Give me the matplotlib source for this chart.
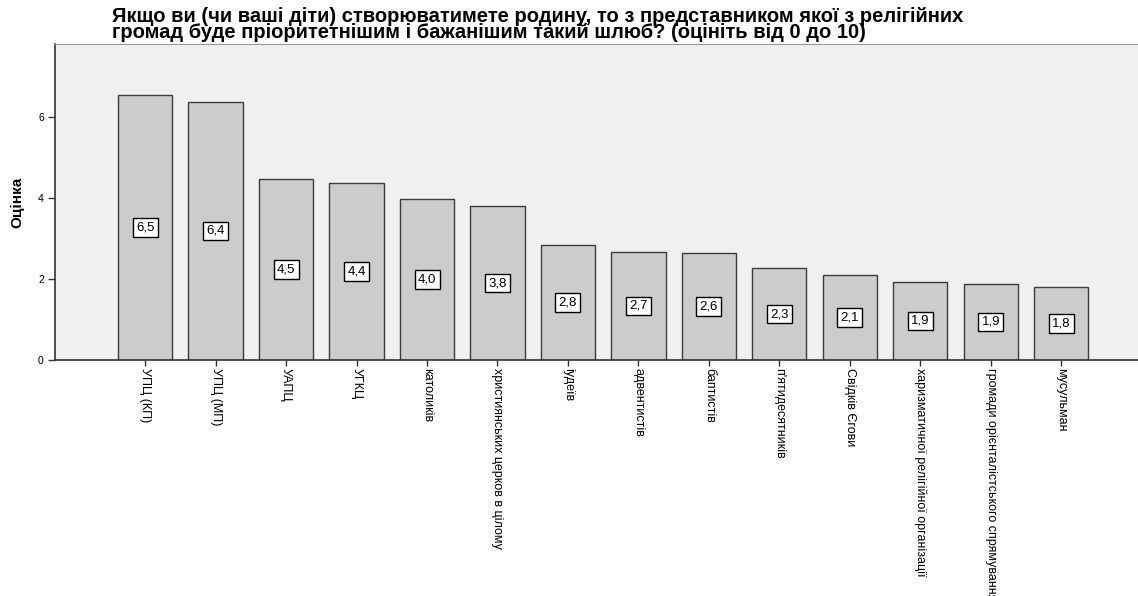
import matplotlib.pyplot as plt
import numpy as np

# groups and mean scores (0..10 scale)
groups = [
    "УПЦ (КП)", "УПЦ (МП)", "УАПЦ", "УГКЦ", "католиків",
    "християнських церков в цілому", "іудеїв", "адвентистів", "баптистів",
    "п'ятидесятників", "Свідків Єгови", "харизматичної релігійної організації",
    "громади орієнталістського спрямування", "мусульман",
]
scores = [6.54, 6.37, 4.47, 4.37, 3.98, 3.80, 2.84, 2.67, 2.64, 2.27, 2.10, 1.93, 1.88, 1.80]
yticks = [0, 2, 4, 6]

plt.rcParams['font.family'] = ['Liberation Sans Narrow', 'Liberation Sans', 'DejaVu Sans']

fig = plt.figure(figsize=(11.38, 5.96), dpi=100)
ax = fig.add_axes([0.0483, 0.396, 0.9517, 0.530])
ax.set_facecolor("#f0f0f0")

x = np.arange(len(groups))
ax.bar(x, scores, width=0.77, color="#cccccc", edgecolor="#3c3c3c", linewidth=1.0, zorder=2)

for xi, v in zip(x, scores):
    ax.text(xi, v / 2, f"{v:.1f}".replace(".", ","), ha="center", va="center",
            fontsize=9.5, family=['Liberation Sans', 'DejaVu Sans'], zorder=3,
            bbox=dict(boxstyle="square,pad=0.25", fc="white", ec="black", lw=1.0))

ax.set_xlim(-1.28, 14.09)
ax.set_ylim(0, 7.8)
ax.set_yticks(yticks)
ax.set_yticklabels([str(t) for t in yticks], fontsize=7.5, family=['Liberation Sans', 'DejaVu Sans'])
ax.set_xticks(x)
ax.set_xticklabels(groups, rotation=-90, fontsize=9, va="top", ha="center")
ax.tick_params(axis="x", length=4, width=1, pad=2, color="#333333")
ax.tick_params(axis="y", length=5, width=1, pad=3, color="#333333")

for side in ["left", "bottom"]:
    ax.spines[side].set_color("#333333")
    ax.spines[side].set_linewidth(1.2)
ax.spines["top"].set_color("#999999")
ax.spines["top"].set_linewidth(0.8)
ax.spines["right"].set_visible(False)

ax.set_ylabel("Оцінка", fontsize=11, fontweight="bold", labelpad=10)

fig.text(0.098, 0.988,
         "Якщо ви (чи ваші діти) створюватимете родину, то з представником якої з релігійних\n"
         "громад буде пріоритетнішим і бажанішим такий шлюб? (оцініть від 0 до 10)",
         ha="left", va="top", fontsize=14.5, fontweight="bold", linespacing=0.8,
         family=['Liberation Sans', 'DejaVu Sans'])

fig.savefig("out.png", dpi=100)
